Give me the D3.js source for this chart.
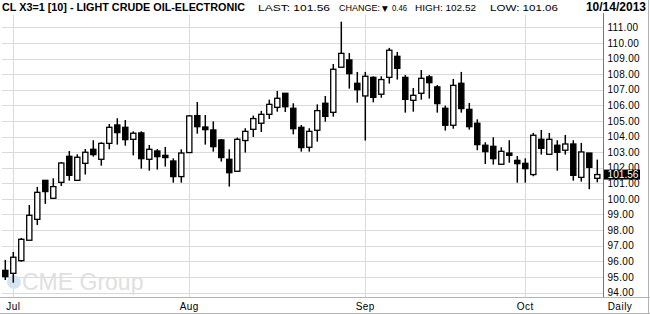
<!DOCTYPE html>
<html>
<head>
<meta charset="utf-8">
<script src="https://cdn.jsdelivr.net/npm/d3@7"></script>
<style>
  body { margin: 0; background: #fff; }
  svg { display: block; font-family: "Liberation Sans", Arial, sans-serif; }
</style>
</head>
<body>
<div class="chart"></div>
<script>
// data: trading days 28 Jun .. 14 Oct 2013
var dates = ["06-28",
  "07-01","07-02","07-03","07-05","07-08","07-09","07-10","07-11","07-12","07-15","07-16","07-17","07-18","07-19","07-22","07-23","07-24","07-25","07-26","07-29","07-30","07-31",
  "08-01","08-02","08-05","08-06","08-07","08-08","08-09","08-12","08-13","08-14","08-15","08-16","08-19","08-20","08-21","08-22","08-23","08-26","08-27","08-28","08-29","08-30",
  "09-03","09-04","09-05","09-06","09-09","09-10","09-11","09-12","09-13","09-16","09-17","09-18","09-19","09-20","09-23","09-24","09-25","09-26","09-27","09-30",
  "10-01","10-02","10-03","10-04","10-07","10-08","10-09","10-10","10-11","10-14"];

var open = [95.42,
  95.23,96.04,97.35,98.69,101.19,100.04,101.06,102.73,101.19,102.28,103.18,102.54,103.56,104.74,104.59,103.82,104.23,102.54,103.07,102.79,102.43,101.43,
  102.97,105.34,104.61,104.42,103.78,102.54,101.77,103.74,104.46,104.85,105.42,105.87,106.77,105.81,104.59,103.31,104.40,106.13,105.55,108.44,108.91,107.41,
  106.60,107.79,106.71,107.79,109.14,107.79,106.32,106.77,107.82,107.18,105.81,104.72,107.41,105.74,104.85,103.44,103.37,102.22,102.94,102.47,
  102.28,101.56,103.82,102.86,103.44,103.12,103.52,101.38,102.94,101.32];
var high = [96.09,
  96.60,97.50,99.61,100.77,101.19,101.32,102.37,103.07,102.86,103.20,103.76,103.63,104.80,105.17,105.06,104.33,104.33,103.46,103.20,103.33,102.60,103.18,
  105.38,106.21,105.38,104.97,103.84,103.18,103.93,104.53,105.34,105.64,106.36,106.92,106.77,106.13,104.74,104.53,106.06,106.60,108.65,111.36,109.35,108.14,
  108.14,107.86,107.86,109.68,109.42,107.94,107.11,108.26,107.94,107.30,105.98,107.69,108.14,106.15,105.10,103.63,103.95,103.31,103.76,102.75,
  102.60,104.23,104.42,104.23,103.76,104.10,103.76,103.59,102.94,102.52];
var low = [94.80,
  94.63,95.98,97.35,98.33,99.68,100.00,100.83,101.17,101.15,101.56,102.71,102.13,103.18,103.48,103.41,102.79,101.94,101.81,101.88,102.07,101.04,101.04,
  102.97,104.18,103.48,103.03,102.39,100.79,101.77,102.97,103.97,104.29,105.12,105.59,105.57,104.14,103.03,103.03,103.67,104.95,105.27,108.44,107.07,106.17,
  103.74,106.19,106.49,107.39,107.65,105.53,105.59,106.36,106.43,105.53,104.38,104.50,105.53,104.44,103.12,102.24,102.20,102.22,102.32,101.04,
  101.04,101.45,102.84,102.86,101.81,102.84,101.17,101.11,100.62,101.06];
var close = [95.02,
  96.26,97.41,98.95,100.42,100.47,100.79,102.30,101.51,102.67,102.99,102.84,103.56,104.59,104.25,103.80,104.21,102.58,103.18,102.71,102.65,101.43,102.94,
  105.32,104.63,104.44,103.35,102.65,101.68,103.82,104.33,105.15,105.42,106.06,106.45,105.91,104.50,103.29,104.33,105.66,105.29,108.31,109.33,108.03,107.00,
  107.86,106.51,107.65,109.53,108.37,106.38,106.64,107.73,107.45,106.11,104.72,107.28,105.79,104.63,103.48,103.03,102.58,103.05,102.79,102.26,
  101.94,104.08,103.24,103.82,102.99,103.52,101.51,103.01,102.02,101.56];

var monthTicks = ["07-01", "08-01", "09-03", "10-01"];
var monthLabels = ["Jul", "Aug", "Sep", "Oct"];
var priceTicks = d3.range(94, 112);

var title = "CL X3=1 [10] - LIGHT CRUDE OIL-ELECTRONIC";
var stats = ["LAST: 101.56", "CHANGE: \u25BC 0.46", "HIGH: 102.52", "LOW: 101.06"];
var stamp = "10/14/2013";
var lastPrice = 101.56;

// layout
var W = 650, H = 314,
    plot = {left: 1.3, right: 603.5, top: 15, bottom: 297};

var svg = d3.select("body").select(".chart").append("svg")
    .attr("width", W)
    .attr("height", H);

var x = d3.scaleBand()
    .domain(dates)
    .range([plot.left, plot.left + dates.length * 8]);

var y = d3.scaleLinear()
    .domain([94, 111])
    .range([292.5, 27.3]);

var data = dates.map((d, i) => ({date: d, o: open[i], h: high[i], l: low[i], c: close[i]}));

// grid
svg.append("g").attr("class", "grid")
  .selectAll("line.h")
  .data(priceTicks)
  .enter().append("line")
    .attr("x1", 2).attr("x2", plot.right)
    .attr("y1", d => Math.round(y(d)) + 0.5)
    .attr("y2", d => Math.round(y(d)) + 0.5)
    .attr("stroke", "#dadada");

svg.append("g").attr("class", "vgrid")
  .selectAll("line")
  .data(monthTicks)
  .enter().append("line")
    .attr("x1", d => Math.round(x(d) + x.bandwidth() / 2) + 0.5)
    .attr("x2", d => Math.round(x(d) + x.bandwidth() / 2) + 0.5)
    .attr("y1", plot.top).attr("y2", plot.bottom)
    .attr("stroke", "#dadada");

// watermark
var wm = svg.append("g").attr("class", "watermark");
wm.append("circle")
    .attr("cx", 14).attr("cy", 282).attr("r", 7)
    .attr("fill", "#d6e4ef");
wm.append("text")
    .attr("x", 22).attr("y", 290)
    .attr("font-size", 23)
    .attr("fill", "#e0e0e0")
    .text("CME Group");

// candles
var candle = svg.append("g").attr("class", "candles")
  .selectAll("g")
  .data(data)
  .enter().append("g")
    .attr("transform", d => "translate(" + (x(d.date) + x.bandwidth() / 2) + ",0)");

candle.append("line")
    .attr("y1", d => y(d.h))
    .attr("y2", d => y(d.l))
    .attr("stroke", "#000")
    .attr("stroke-width", 1.5);

candle.append("rect")
    .attr("x", -2.6)
    .attr("width", 5.2)
    .attr("y", d => y(Math.max(d.o, d.c)))
    .attr("height", d => Math.max(1, Math.abs(y(d.o) - y(d.c))))
    .attr("fill", d => d.c < d.o ? "#000" : "#fff")
    .attr("stroke", "#000")
    .attr("stroke-width", 1.3);

// right axis
var axis = svg.append("g")
    .attr("class", "y axis")
    .attr("transform", "translate(" + plot.right + ",0)")
    .call(d3.axisRight(y).tickValues(priceTicks).tickFormat(d3.format(".2f")).tickSize(0).tickPadding(4));
axis.select(".domain").remove();
axis.selectAll("text")
    .attr("font-family", "Liberation Sans, Arial, sans-serif")
    .attr("font-size", 10)
    .attr("letter-spacing", 0.3)
    .attr("fill", "#000");

svg.append("line")
    .attr("x1", plot.right).attr("x2", plot.right)
    .attr("y1", 13).attr("y2", plot.bottom)
    .attr("stroke", "#777");

// last price tag
svg.append("rect")
    .attr("x", plot.right + 0.5).attr("width", 36)
    .attr("y", y(lastPrice) - 5).attr("height", 10)
    .attr("fill", "#000");
svg.append("text")
    .attr("x", plot.right + 4).attr("y", y(lastPrice))
    .attr("dy", "0.35em")
    .attr("font-size", 10)
    .attr("textLength", 31)
    .attr("lengthAdjust", "spacingAndGlyphs")
    .attr("fill", "#fff")
    .text(d3.format(".2f")(lastPrice));

// bottom band
svg.append("line")
    .attr("x1", 0).attr("x2", W)
    .attr("y1", plot.bottom + 0.5).attr("y2", plot.bottom + 0.5)
    .attr("stroke", "#b4b4b4");
svg.append("line")
    .attr("x1", 0).attr("x2", W)
    .attr("y1", 313.5).attr("y2", 313.5)
    .attr("stroke", "#b4b4b4");
svg.append("line")
    .attr("x1", 648.5).attr("x2", 648.5)
    .attr("y1", 0).attr("y2", H)
    .attr("stroke", "#b4b4b4");

svg.append("g").attr("class", "x labels")
  .selectAll("text")
  .data(monthTicks)
  .enter().append("text")
    .attr("x", d => x(d) + x.bandwidth() / 2)
    .attr("y", 309.5)
    .attr("text-anchor", "middle")
    .attr("font-size", 10)
    .attr("letter-spacing", 0.5)
    .text((d, i) => monthLabels[i]);

svg.append("text")
    .attr("x", 620).attr("y", 309.5)
    .attr("text-anchor", "middle")
    .attr("font-size", 10)
    .attr("letter-spacing", 0.5)
    .text("Daily");

// header
svg.append("text")
    .attr("x", 2).attr("y", 11)
    .attr("font-size", 11.4)
    .attr("font-weight", "bold")
    .attr("textLength", 243)
    .attr("lengthAdjust", "spacingAndGlyphs")
    .text(title);

// each header stat is laid out in pieces: [x, width] for every run of text
var statRuns = [
  [[258, 72]],
  [[339, 41], [382, 0], [392, 15]],
  [[415, 61]],
  [[490, 68]]
];
var statText = svg.append("g").attr("class", "stats")
  .selectAll("text")
  .data(stats)
  .enter().append("text")
    .attr("y", 11)
    .attr("font-size", 9.5);

statText.each(function(d, i) {
  var t = d3.select(this),
      parts = d.split("\u25BC"),
      runs = statRuns[i];
  if (parts.length == 1) {
    t.append("tspan").attr("x", runs[0][0])
      .attr("textLength", runs[0][1]).attr("lengthAdjust", "spacingAndGlyphs")
      .text(d);
  } else {
    t.append("tspan").attr("x", runs[0][0])
      .attr("textLength", runs[0][1]).attr("lengthAdjust", "spacingAndGlyphs")
      .text(parts[0].trim());
    t.append("tspan").attr("x", runs[1][0])
      .attr("font-size", 7.5).attr("font-family", "DejaVu Sans")
      .text("\u25BC");
    t.append("tspan").attr("x", runs[2][0])
      .attr("textLength", runs[2][1]).attr("lengthAdjust", "spacingAndGlyphs")
      .text(parts[1].trim());
  }
});

svg.append("text")
    .attr("x", 646).attr("y", 11)
    .attr("text-anchor", "end")
    .attr("font-size", 12)
    .attr("font-weight", "bold")
    .text(stamp);
</script>
</body>
</html>
